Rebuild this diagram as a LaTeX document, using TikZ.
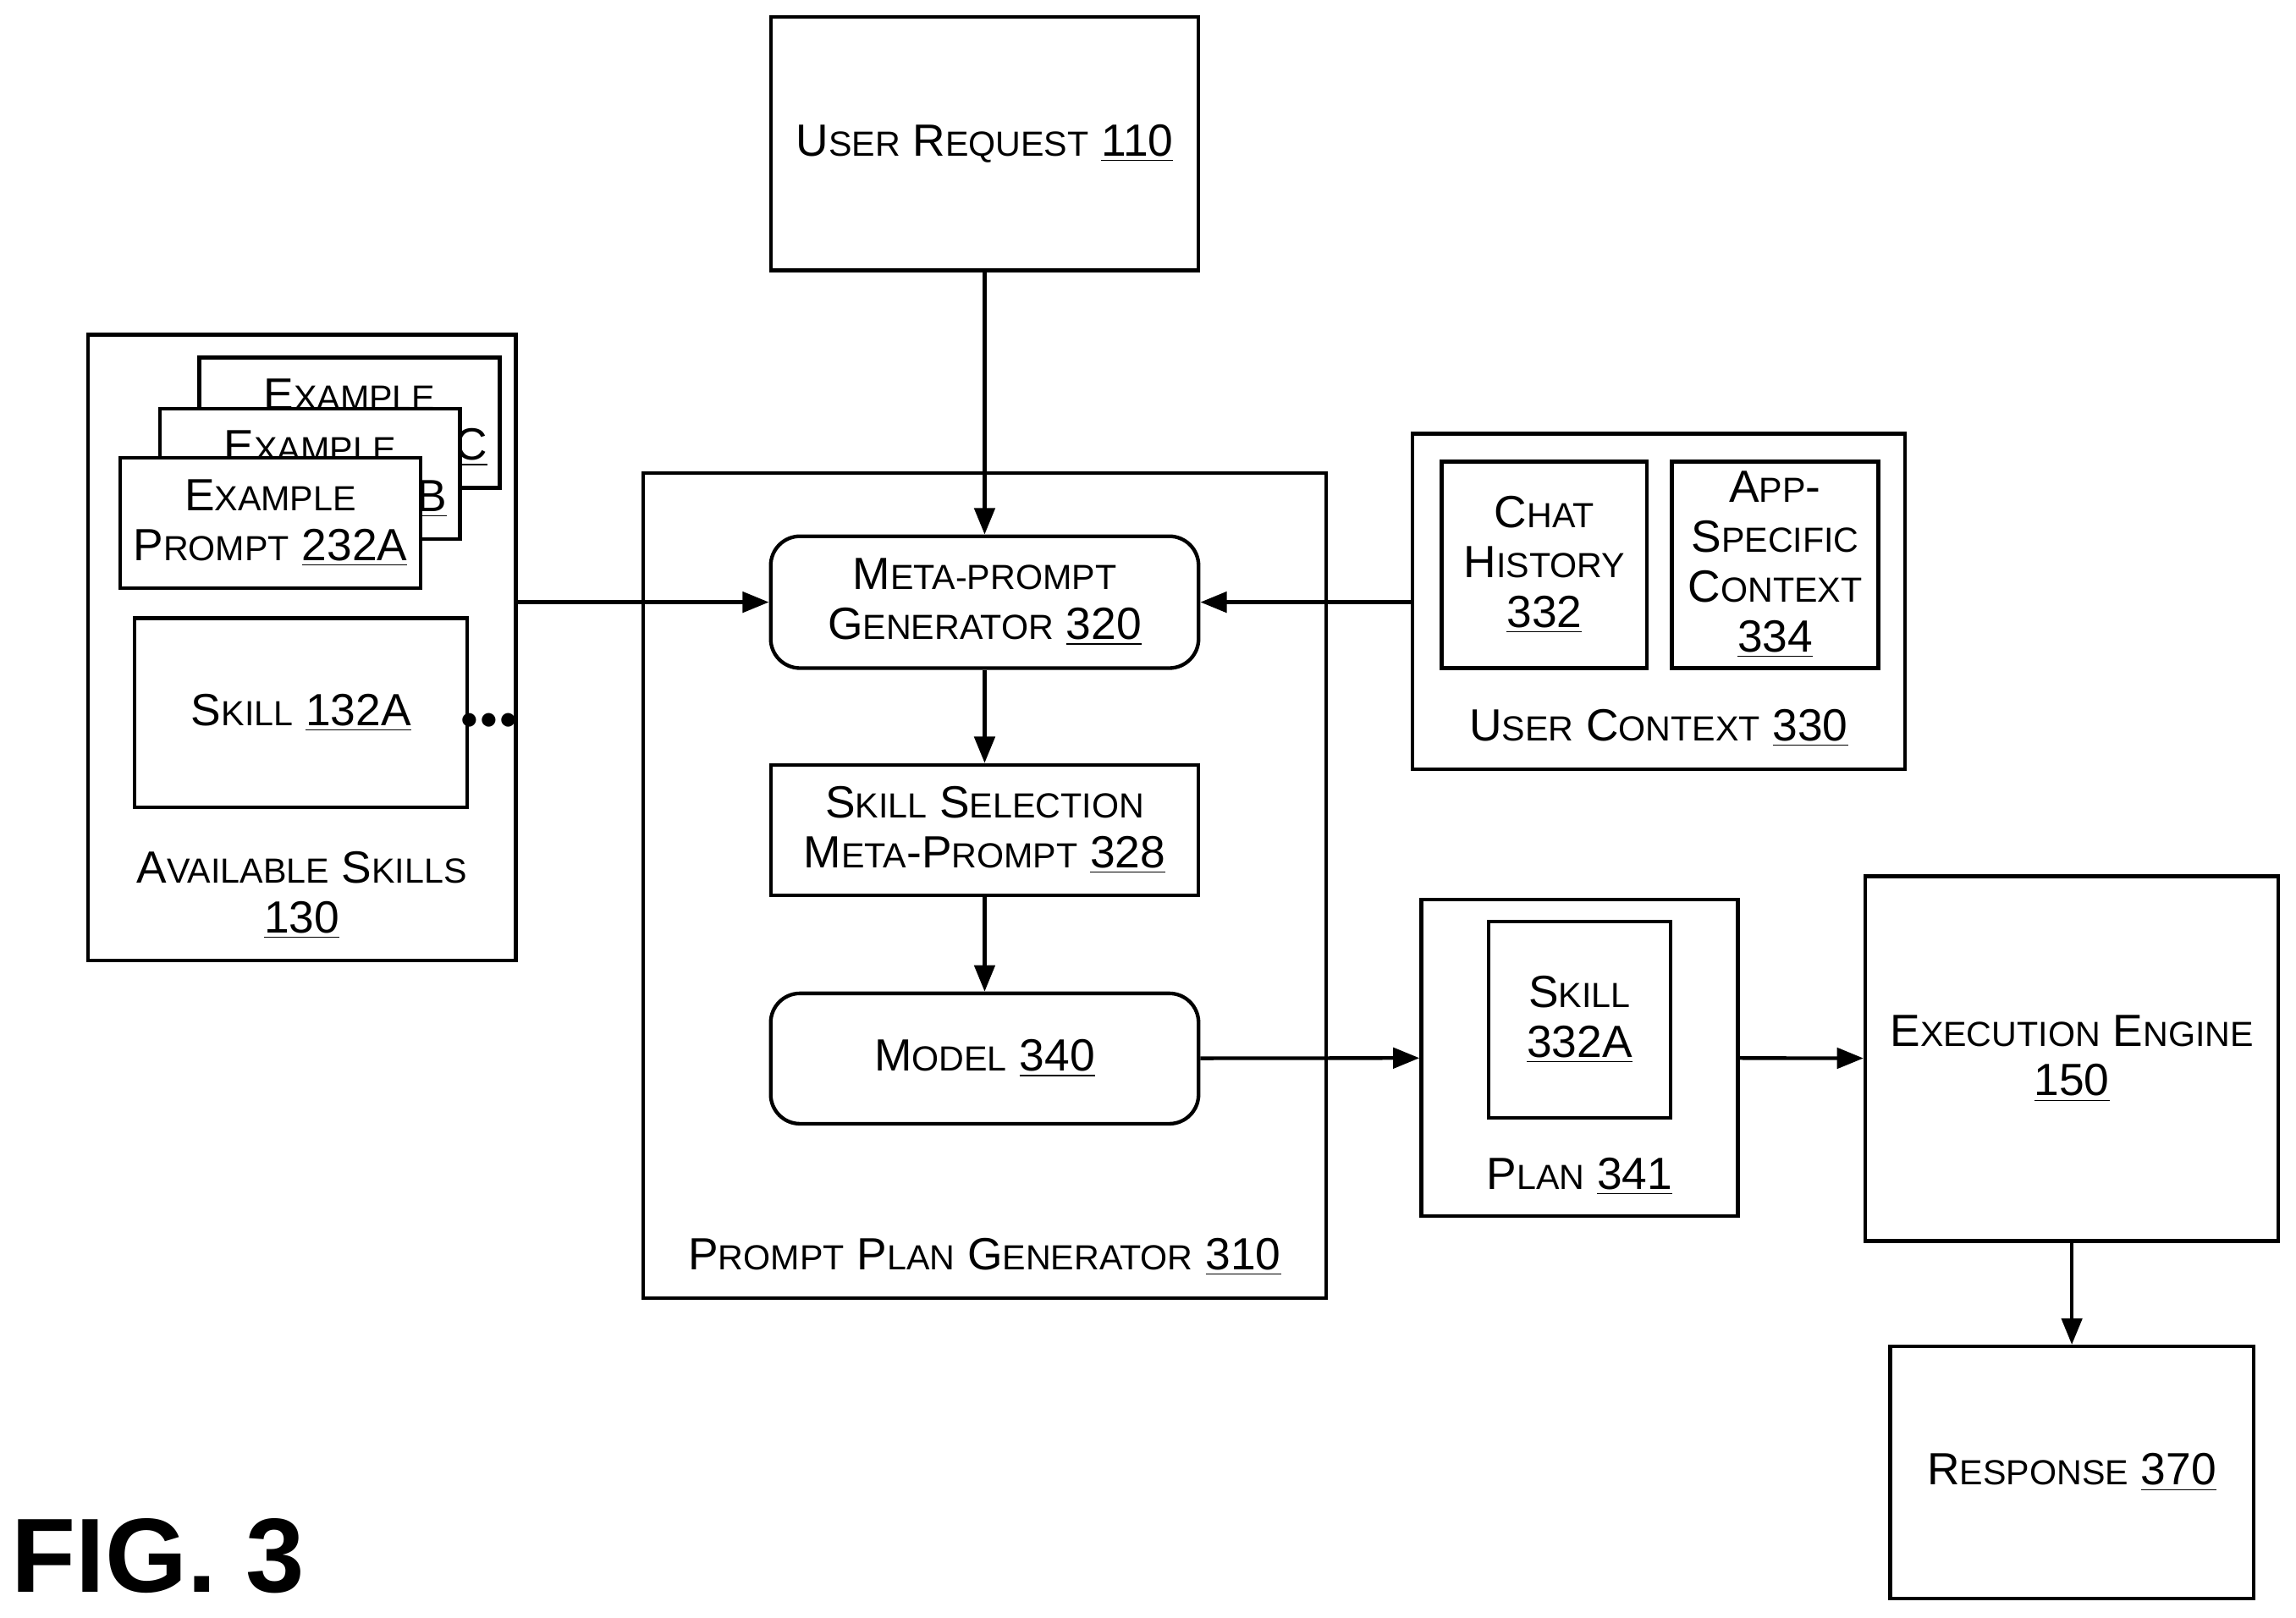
\documentclass[tikz,border=0pt]{standalone}
\usepackage{fontspec}
\setmainfont{Liberation Sans}
\usetikzlibrary{positioning,arrows.meta}
\newcommand{\sm}[1]{{\fontsize{11.9}{14}\selectfont #1}}
\tikzstyle{every node}+=[font=\fontsize{15.4}{17}\selectfont,align=center]
\tikzstyle{every path}+=[line width=1.25pt]
\tikzstyle{box}=[draw,rectangle,inner sep=0pt]
\tikzstyle{rbox}=[box,rounded corners=10pt]
\tikzstyle{prompt}=[box,fill=white,minimum width=102.5pt,minimum height=44.5pt]
\tikzstyle{arr}=[-{Triangle[length=9pt,width=7pt]}]

\begin{document}
\begin{tikzpicture}[x=0.5pt,y=-0.5pt]
\useasboundingbox (0,0) rectangle (1567,1104);

\node[box,minimum width=146pt,minimum height=86.5pt] (req) at (672,98) {U\sm{SER} R\sm{EQUEST} \underline{110}};

% available skills
\node[box,minimum width=146pt,minimum height=213.5pt] (avail) at (206,442) {};
\node at (206,611) {A\sm{VAILABLE} S\sm{KILLS}\\\underline{130}};
\node[prompt] (exc) at (238.5,288.5) {E\sm{XAMPLE}\\P\sm{ROMPT} \underline{232C}};
\node[prompt] (exb) at (211.5,323.5) {E\sm{XAMPLE}\\P\sm{ROMPT} \underline{232B}};
\node[prompt] (exa) at (184.5,357) {E\sm{XAMPLE}\\P\sm{ROMPT} \underline{232A}};
\node[box,minimum width=113.5pt,minimum height=64.5pt] (skill) at (205.5,486.5) {S\sm{KILL} \underline{132A}};
\node[font=\fontsize{12}{12}\selectfont] (dots) at (334,492) {$\bullet\!\bullet\!\bullet$};

% prompt plan generator
\node[box,minimum width=233pt,minimum height=281.5pt] (ppg) at (672,604.5) {};
\node at (672,858) {P\sm{ROMPT} P\sm{LAN} G\sm{ENERATOR} \underline{310}};
\node[rbox,minimum width=146pt,minimum height=45pt] (meta) at (672,411) {M\sm{ETA-PROMPT}\\G\sm{ENERATOR} \underline{320}};
\node[box,minimum width=146pt,minimum height=44.5pt] (sel) at (672,566.5) {S\sm{KILL} S\sm{ELECTION}\\M\sm{ETA}-P\sm{ROMPT} \underline{328}};
\node[rbox,minimum width=146pt,minimum height=44.5pt] (model) at (672,722.5) {M\sm{ODEL} \underline{340}};

% user context
\node[box,minimum width=168pt,minimum height=114.5pt] (ctx) at (1132,410.5) {};
\node at (1132,497) {U\sm{SER} C\sm{ONTEXT} \underline{330}};
\node[box,minimum width=70pt,minimum height=70.5pt] (chat) at (1054,385.5) {C\sm{HAT}\\H\sm{ISTORY}\\\underline{332}};
\node[box,minimum width=70.5pt,minimum height=70.5pt] (app) at (1211.5,385.5) {A\sm{PP}-\\S\sm{PECIFIC}\\C\sm{ONTEXT}\\\underline{334}};

% plan
\node[box,minimum width=108pt,minimum height=108pt] (plan) at (1078,722) {};
\node at (1078,803) {P\sm{LAN} \underline{341}};
\node[box,minimum width=62pt,minimum height=67pt] (pskill) at (1078,696) {S\sm{KILL}\\\underline{332A}};

\node[box,minimum width=141pt,minimum height=124.5pt] (exec) at (1414,722.5) {E\sm{XECUTION} E\sm{NGINE}\\\underline{150}};
\node[box,minimum width=124pt,minimum height=86pt] (resp) at (1414,1005) {R\sm{ESPONSE} \underline{370}};

\node[font=\fontsize{36}{36}\selectfont\bfseries] (fig) at (108,1062) {FIG. 3};

\draw[arr] (req) -- (meta);
\draw[arr] (avail.east |- meta) -- (meta);
\draw[arr] (ctx.west |- meta) -- (meta);
\draw[arr] (meta) -- (sel);
\draw[arr] (sel) -- (model);
\draw[arr] (model) -- (plan);
\draw[arr] (plan) -- (exec);
\draw[arr] (exec) -- (resp);
\end{tikzpicture}
\end{document}
